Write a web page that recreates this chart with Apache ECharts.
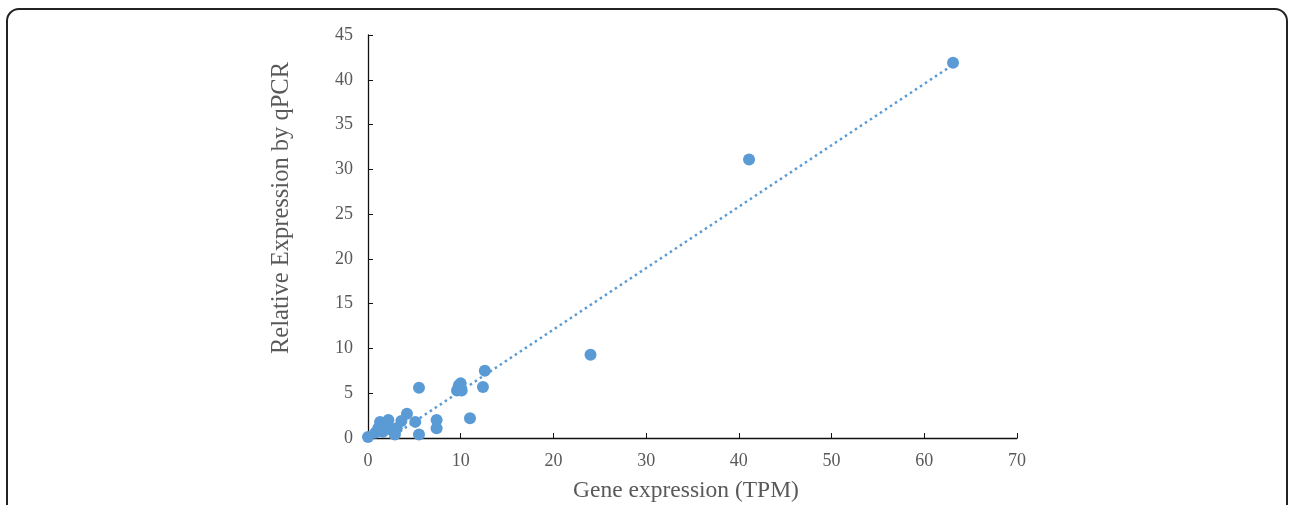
<!DOCTYPE html>
<html>
<head>
<meta charset="utf-8">
<script src="https://cdn.jsdelivr.net/npm/echarts@6/dist/echarts.min.js"></script>
<style>
html,body{margin:0;padding:0;background:#fff;}
#chart{width:1290px;height:505px;}
</style>
</head>
<body>
<div id="chart"></div>
<script>
// Data
const tpm = [0, 0.8, 1.1, 1.3, 1.6, 2.2, 2.2, 2.6, 2.9, 3.1, 3.6, 4.2, 5.1, 5.5, 5.5, 7.4, 7.4, 9.6, 9.8, 10.0, 10.1, 11.0, 12.4, 12.6, 24.0, 41.1, 63.1];
const qpcr = [0.1, 0.6, 1.1, 1.8, 0.7, 2.0, 1.3, 0.9, 0.4, 1.1, 1.9, 2.7, 1.8, 5.6, 0.4, 2.0, 1.1, 5.3, 5.9, 6.1, 5.3, 2.2, 5.7, 7.5, 9.3, 31.1, 41.9];
// Linear trendline (estimated): y = slope * x + intercept, drawn over this x range
const trendSlope = 0.686;
const trendIntercept = -1.61;
const trendRange = [2.35, 63.2];
const xTitle = 'Gene expression (TPM)';
const yTitle = 'Relative Expression by qPCR';

const points = tpm.map((x, i) => [x, qpcr[i]]);
const trendData = trendRange.map(x => [x, trendSlope * x + trendIntercept]);

const chart = echarts.init(document.getElementById('chart'), null, {renderer: 'canvas'});
const serif = '"Liberation Serif", "DejaVu Serif", serif';
const gray = '#595959';
chart.setOption({
  animation: false,
  backgroundColor: '#fff',
  grid: {left: 368, right: 273, top: 35, bottom: 67, containLabel: false},
  xAxis: {
    type: 'value', min: 0, max: 70, interval: 10,
    axisLine: {lineStyle: {color: '#111', width: 1.3}},
    axisTick: {inside: true, length: 5, lineStyle: {color: '#111'}},
    splitLine: {show: false},
    axisLabel: {color: gray, fontFamily: serif, fontSize: 18, margin: 14}
  },
  yAxis: {
    type: 'value', min: 0, max: 45, interval: 5,
    axisLine: {show: true, lineStyle: {color: '#111', width: 1.3}},
    axisTick: {show: true, inside: true, length: 5, lineStyle: {color: '#111'}},
    splitLine: {show: false},
    axisLabel: {color: gray, fontFamily: serif, fontSize: 18, margin: 15}
  },
  graphic: [
    {type: 'rect', shape: {x: 7, y: 9, width: 1280, height: 540, r: 12}, style: {fill: 'none', stroke: '#222', lineWidth: 2}, silent: true},
    {type: 'text', x: 686, y: 491, style: {text: xTitle, fill: gray, font: '23.5px ' + serif, textAlign: 'center', textVerticalAlign: 'middle'}},
    {type: 'text', x: 282, y: 208, rotation: Math.PI / 2, style: {text: yTitle, fill: gray, font: '24.5px ' + serif, textAlign: 'center', textVerticalAlign: 'middle'}}
  ],
  series: [
    {
      type: 'line', data: trendData, showSymbol: false, symbol: 'none',
      lineStyle: {color: '#5B9BD5', width: 2.5, type: [2.5, 3.5]}, z: 1
    },
    {
      type: 'scatter', data: points, symbolSize: 12,
      itemStyle: {color: '#5B9BD5', opacity: 1}, z: 2
    }
  ]
});
</script>
</body>
</html>
